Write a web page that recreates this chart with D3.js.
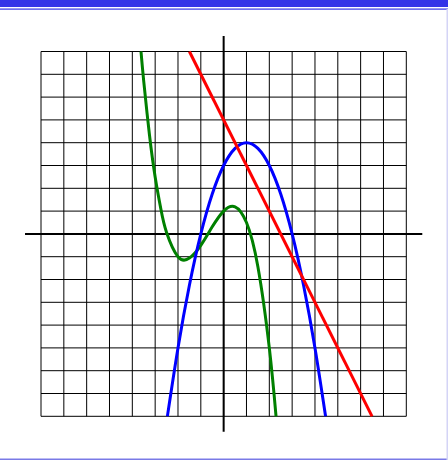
<!DOCTYPE html>
<html><head><meta charset="utf-8">
<script src="https://cdn.jsdelivr.net/npm/d3@7"></script>
<style>html,body{margin:0;padding:0;background:#fff;}svg{display:block;}</style>
</head><body>
<script>
// grid ticks (units)
const gridTicks = [-8,-7,-6,-5,-4,-3,-2,-1,0,1,2,3,4,5,6,7,8];
// red line points
const redX = [-1.5, 6.5];
const redY = [8, -8];
// blue parabola points
const blueX = [-2.464, -2, -1.5, -1, -0.5, 0, 0.5, 1, 1.5, 2, 2.5, 3, 3.5, 4, 4.464];
const blueY = [-8, -5, -2.25, 0, 1.75, 3, 3.75, 4, 3.75, 3, 1.75, 0, -2.25, -5, -8];
// green cubic points
const greenX = [-3.62, -3.5, -3.25, -3, -2.75, -2.5, -2, -1.5, -1, -0.5, 0, 0.5, 1, 1.5, 2, 2.295];
const greenY = [8, 6.69, 4.35, 2.5, 1.09, 0.06, -1, -1.06, -0.5, 0.31, 1, 1.19, 0.5, -1.44, -5, -8];

const W = 448, H = 460;
const svg = d3.select("body").append("svg").attr("width", W).attr("height", H);

const x = d3.scaleLinear().domain([-8, 8]).range([41, 406.3]);
const y = d3.scaleLinear().domain([-8, 8]).range([416.3, 51.5]);

// frame decorations
svg.append("rect").attr("x",0).attr("y",0).attr("width",W).attr("height",7).attr("fill","#3434e8");
svg.append("rect").attr("x",0).attr("y",8.5).attr("width",W).attr("height",1.2).attr("fill","#3434e8");
svg.append("rect").attr("x",0).attr("y",458.6).attr("width",W).attr("height",1.2).attr("fill","#5a5ae0");
svg.append("rect").attr("x",446.5).attr("y",9).attr("width",1.5).attr("height",451).attr("fill","#d4d4f6");

// grid
const g = svg.append("g");
g.selectAll("line.v").data(gridTicks).join("line")
  .attr("x1", d => x(d)).attr("x2", d => x(d))
  .attr("y1", y(8)).attr("y2", y(-8))
  .attr("stroke", "#000").attr("stroke-width", 1);
g.selectAll("line.h").data(gridTicks).join("line")
  .attr("y1", d => y(d)).attr("y2", d => y(d))
  .attr("x1", x(-8)).attr("x2", x(8))
  .attr("stroke", "#000").attr("stroke-width", 1);

// axes
svg.append("line").attr("x1", x(-8.7)).attr("x2", x(8.7)).attr("y1", y(0)).attr("y2", y(0))
  .attr("stroke", "#000").attr("stroke-width", 2);
svg.append("line").attr("x1", x(0)).attr("x2", x(0)).attr("y1", y(8.68)).attr("y2", y(-8.68))
  .attr("stroke", "#000").attr("stroke-width", 2);

// curves
svg.append("clipPath").attr("id","clip").append("rect")
  .attr("x", x(-8)).attr("y", y(8)-1.5).attr("width", x(8)-x(-8)).attr("height", y(-8)-y(8)+3);

const line = d3.line().x(d => x(d[0])).y(d => y(d[1])).curve(d3.curveNatural);
const series = [
  {xs: redX, ys: redY, color: "#ff0000"},
  {xs: blueX, ys: blueY, color: "#0000ff"},
  {xs: greenX, ys: greenY, color: "#008000"}
];
[series[2], series[1], series[0]].forEach(s => {
  svg.append("path")
    .attr("d", line(s.xs.map((v, i) => [v, s.ys[i]])))
    .attr("fill", "none").attr("stroke", s.color).attr("stroke-width", 3)
    .attr("clip-path", "url(#clip)");
});
</script>
</body></html>
